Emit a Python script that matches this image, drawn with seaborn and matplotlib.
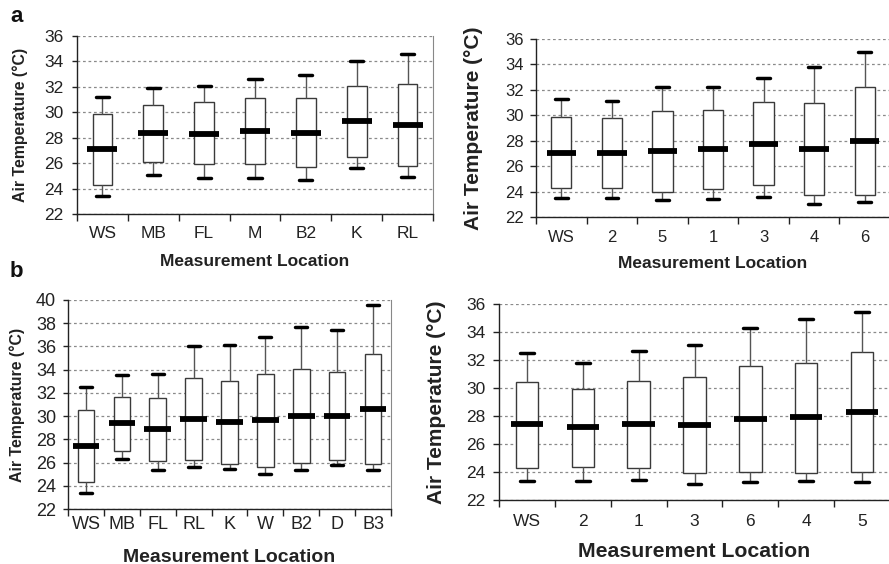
import numpy as np
import pandas as pd
import matplotlib
matplotlib.use("Agg")
import matplotlib.pyplot as plt
import seaborn as sns

sns.set_theme(style="ticks")
plt.rcParams['font.family'] = ['Liberation Sans', 'DejaVu Sans']

# ---------------- data ----------------
# Panel a, left
a1_cats = ["WS", "MB", "FL", "M", "B2", "K", "RL"]
a1_low = [23.4, 25.1, 24.8, 24.8, 24.7, 25.6, 24.9]
a1_q1 = [24.3, 26.1, 25.9, 25.9, 25.7, 26.5, 25.8]
a1_med = [27.1, 28.4, 28.3, 28.5, 28.4, 29.3, 29.0]
a1_q3 = [29.9, 30.6, 30.8, 31.1, 31.1, 32.1, 32.2]
a1_high = [31.2, 31.9, 32.1, 32.6, 32.9, 34.0, 34.6]

# Panel a, right
a2_cats = ["WS", "2", "5", "1", "3", "4", "6"]
a2_low = [23.5, 23.5, 23.3, 23.4, 23.6, 23.0, 23.15]
a2_q1 = [24.3, 24.3, 24.0, 24.2, 24.5, 23.7, 23.7]
a2_med = [27.05, 27.05, 27.2, 27.35, 27.75, 27.35, 28.0]
a2_q3 = [29.9, 29.75, 30.3, 30.4, 31.05, 30.95, 32.2]
a2_high = [31.25, 31.1, 32.2, 32.2, 32.9, 33.8, 35.0]

# Panel b, left
b1_cats = ["WS", "MB", "FL", "RL", "K", "W", "B2", "D", "B3"]
b1_low = [23.4, 26.3, 25.35, 25.65, 25.45, 25.0, 25.35, 25.8, 25.35]
b1_q1 = [24.3, 27.0, 26.1, 26.2, 25.9, 25.65, 26.0, 26.25, 25.85]
b1_med = [27.45, 29.4, 28.9, 29.75, 29.5, 29.7, 30.0, 30.0, 30.6]
b1_q3 = [30.5, 31.65, 31.6, 33.3, 33.0, 33.6, 34.05, 33.8, 35.35]
b1_high = [32.5, 33.5, 33.6, 36.0, 36.1, 36.8, 37.65, 37.4, 39.55]

# Panel b, right
b2_cats = ["WS", "2", "1", "3", "6", "4", "5"]
b2_low = [23.35, 23.35, 23.45, 23.15, 23.25, 23.35, 23.25]
b2_q1 = [24.25, 24.35, 24.3, 23.95, 24.0, 23.95, 24.0]
b2_med = [27.4, 27.2, 27.4, 27.35, 27.75, 27.9, 28.25]
b2_q3 = [30.45, 29.95, 30.5, 30.75, 31.55, 31.8, 32.55]
b2_high = [32.5, 31.75, 32.65, 33.05, 34.25, 34.95, 35.4]

a_yticks = [22, 24, 26, 28, 30, 32, 34, 36]
b1_yticks = [22, 24, 26, 28, 30, 32, 34, 36, 38, 40]

XLABEL = "Measurement Location"
YLABEL = "Air Temperature (°C)"


def panel(ax, cats, lo, q1, med, q3, hi, yticks, box_w, med_w, cap_w,
          tick_fs, xlab_fs, ylab_fs, ylab_x, xlab_y, xpad, ypad, ylen,
          med_lw=4.2, cap_lw=2.5):
    df = pd.DataFrame({
        "loc": np.repeat(cats, 5),
        "temp": np.column_stack([lo, q1, med, q3, hi]).ravel(),
    })
    sns.boxplot(data=df, x="loc", y="temp", order=cats, ax=ax,
                whis=(0, 100), width=box_w, color="white",
                linecolor="#3a3a3a", linewidth=1.0, showfliers=False,
                whiskerprops=dict(color="#555555", linewidth=1.0),
                capprops=dict(color="black", linewidth=cap_lw),
                capwidths=cap_w,
                medianprops=dict(linewidth=0))
    sns.boxplot(data=df, x="loc", y="temp", order=cats, ax=ax,
                whis=(0, 100), width=med_w, fill=False,
                linecolor="black", showfliers=False,
                boxprops=dict(linewidth=0), whiskerprops=dict(linewidth=0),
                capprops=dict(linewidth=0),
                medianprops=dict(color="black", linewidth=med_lw))
    n = len(cats)
    ax.set_xlim(-0.5, n - 0.5)
    ax.set_ylim(yticks[0], yticks[-1])
    ax.set_yticks(yticks)
    ax.set_yticklabels([str(t) for t in yticks], fontsize=tick_fs)
    ax.set_xticks(range(n))
    ax.set_xticklabels(cats, fontsize=tick_fs)
    ax.set_xticks(np.arange(n + 1) - 0.5, minor=True)
    ax.tick_params(axis="x", which="major", length=0, pad=xpad,
                   colors="#222222", labelcolor="#222222")
    ax.tick_params(axis="x", which="minor", length=5, width=1,
                   color="#222222", bottom=True)
    ax.tick_params(axis="y", which="major", length=ylen, width=1,
                   pad=ypad, color="#222222", labelcolor="#222222", left=True)
    ax.yaxis.grid(True, linestyle=(0, (2.2, 2.2)), color="#8a8a8a",
                  linewidth=0.9)
    ax.set_axisbelow(True)
    for s in ["left", "bottom"]:
        ax.spines[s].set_color("#222222")
        ax.spines[s].set_linewidth(1.0)
    ax.spines["right"].set_color("#888888")
    ax.spines["right"].set_linewidth(0.8)
    ax.spines["top"].set_visible(False)
    ax.set_xlabel(XLABEL, fontsize=xlab_fs, fontweight="bold",
                  color="#222222")
    ax.set_ylabel(YLABEL, fontsize=ylab_fs, fontweight="bold",
                  color="#222222")
    ax.yaxis.set_label_coords(ylab_x, 0.5)
    ax.xaxis.set_label_coords(0.5, xlab_y)


fig = plt.figure(figsize=(8.89, 5.64), dpi=100)
W, H = 889.0, 564.0


def axes_px(x0, y0, x1, y1):
    return fig.add_axes([x0 / W, 1 - y1 / H, (x1 - x0) / W, (y1 - y0) / H])


ax1 = axes_px(77, 36, 433, 214)
panel(ax1, a1_cats, a1_low, a1_q1, a1_med, a1_q3, a1_high, a_yticks,
      0.39, 0.59, 0.26, 12.5, 12.5, 11.4, -0.138, -0.225, 9, 6, 3.5)

ax2 = axes_px(536, 39, 890, 217)
panel(ax2, a2_cats, a2_low, a2_q1, a2_med, a2_q3, a2_high, a_yticks,
      0.40, 0.58, 0.25, 12, 12.5, 15, -0.151, -0.219, 9, 5, 4)

ax3 = axes_px(68, 300, 391, 509)
panel(ax3, b1_cats, b1_low, b1_q1, b1_med, b1_q3, b1_high, b1_yticks,
      0.46, 0.74, 0.33, 13, 14, 11.4, -0.133, -0.19, 5, 5, 3.5)

ax4 = axes_px(499, 304, 890, 500)
panel(ax4, b2_cats, b2_low, b2_q1, b2_med, b2_q3, b2_high, a_yticks,
      0.40, 0.58, 0.25, 12.5, 15.3, 15, -0.135, -0.214, 10, 5, 4.5)

fig.text(10 / W, 1 - 16 / H, "a", fontsize=16, fontweight="bold",
         va="center", ha="left", color="#111111")
fig.text(10 / W, 1 - 271 / H, "b", fontsize=16, fontweight="bold",
         va="center", ha="left", color="#111111")

fig.savefig("out.png", dpi=100)
